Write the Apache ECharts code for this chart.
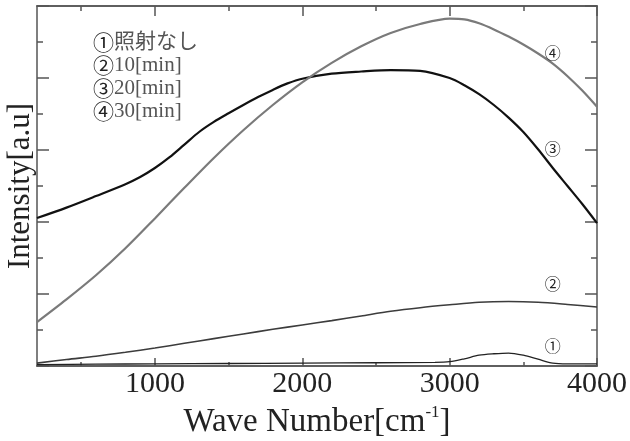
<!DOCTYPE html>
<html><head><meta charset="utf-8">
<script src="https://cdn.jsdelivr.net/npm/echarts@6.0.0/dist/echarts.min.js"></script>
<style>html,body{margin:0;padding:0;background:#fff}#c{width:630px;height:441px}</style>
</head><body><div id="c"></div>
<script>
// Wave numbers (cm^-1) at which each curve was read
const wave3 = [200,400,600,800,900,1000,1100,1200,1300,1400,1500,1600,1700,1800,1900,2000,2200,2400,2600,2800,3000,3100,3200,3300,3400,3500,3600,3700,3800,3900,4000];
const int3  = [4.11,4.40,4.72,5.05,5.25,5.5,5.8,6.15,6.5,6.78,7.02,7.25,7.47,7.67,7.85,7.98,8.12,8.18,8.22,8.2,8.0,7.8,7.55,7.25,6.9,6.5,6.02,5.5,5.0,4.5,3.97];
const wave4 = [200,400,600,800,1000,1200,1400,1600,1800,2000,2200,2400,2600,2800,3000,3100,3200,3300,3400,3500,3600,3700,3800,3900,4000];
const int4  = [1.22,1.85,2.52,3.27,4.1,4.95,5.78,6.55,7.25,7.88,8.42,8.88,9.25,9.5,9.65,9.63,9.52,9.35,9.15,8.93,8.68,8.4,8.05,7.65,7.2];
const wave2 = [200,400,600,800,1000,1200,1400,1600,1800,2000,2200,2400,2600,2800,3000,3200,3400,3600,3800,4000];
const int2  = [0.08,0.18,0.27,0.38,0.5,0.63,0.76,0.89,1.02,1.14,1.26,1.39,1.52,1.62,1.7,1.77,1.79,1.77,1.71,1.64];
const wave1 = [200,600,1000,1500,2000,2500,2900,3000,3100,3200,3300,3400,3500,3600,3700,3800,4000];
const int1  = [0.04,0.05,0.06,0.07,0.08,0.09,0.1,0.12,0.2,0.3,0.34,0.36,0.3,0.19,0.08,0.06,0.06];
// curve tags (circled numbers) positions in data units
const tagWave = 3700;
const tagInt = [0.56, 2.28, 6.03, 8.69];
const tagText = ['①','②','③','④'];
// axis ticks
const xMajor = [1000,2000,3000,4000];
const xMinor = [500,1500,2500,3500];
const legendLines = [['①','照射なし'],['②','10[min]'],['③','20[min]'],['④','30[min]']];

const serif = '"Liberation Serif","Times New Roman","Noto Sans CJK JP",serif';
const frame = {show:true, lineStyle:{color:'#555', width:1.5}};
function xAx(pos, vals, len, labels, extra){
  return Object.assign({type:'value', min:200, max:4000, position:pos,
    axisLine: frame,
    axisTick:{show:true, inside:true, length:len, customValues:vals, lineStyle:{color:'#555', width:1.5}},
    axisLabel: labels ? {show:true, customValues:vals, margin:3, fontFamily:serif, fontSize:30, color:'#222',
      formatter:v=>String(v)} : {show:false},
    splitLine:{show:false}}, extra||{});
}
function yAx(pos, extra){
  return Object.assign({type:'value', min:0, max:10, interval:2, position:pos,
    axisLine: frame,
    axisTick:{show:true, inside:true, length:12, lineStyle:{color:'#555', width:1.5}},
    minorTick:{show:true, splitNumber:2, length:6, lineStyle:{color:'#555', width:1.5}},
    axisLabel:{show:false}, splitLine:{show:false}, minorSplitLine:{show:false}}, extra||{});
}
function zip(a,b){return a.map((v,i)=>[v,b[i]]);}
function tag(i){
  return {symbol:'circle', symbolSize:1, silent:true, itemStyle:{color:'rgba(0,0,0,0)'},
    label:{show:true, position:'inside', formatter:tagText[i], fontSize:16, color:'#222', fontFamily:'"Noto Sans CJK JP",sans-serif'},
    data:[{coord:[tagWave, tagInt[i]]}]};
}
const chart = echarts.init(document.getElementById('c'), null, {renderer:'canvas'});
chart.setOption({
  animation:false,
  backgroundColor:'#fff',
  grid:{left:37, right:33, top:6, bottom:75, outerBoundsMode:'none', containLabel:false},
  title:{
    left:88, top:26,
    text: legendLines.map(l=>'{c|'+l[0]+'}{t|'+l[1]+'}').join('\n'),
    textStyle:{fontSize:20, fontWeight:'normal', lineHeight:23, rich:{
      c:{fontSize:21, color:'#222', fontWeight:'normal', fontFamily:'"Noto Sans CJK JP",sans-serif', lineHeight:23},
      t:{fontSize:21, color:'#555', fontWeight:'normal', fontFamily:serif, lineHeight:23}
    }}
  },
  xAxis:[
    xAx('bottom', xMajor, 8, true, {
      name:'{a|Wave Number[cm}{s|-1}{a|]}', nameLocation:'middle', nameGap:34,
      nameTextStyle:{rich:{
        a:{fontFamily:serif, fontSize:33, color:'#222', lineHeight:36},
        s:{fontFamily:serif, fontSize:17, color:'#222', verticalAlign:'top', lineHeight:36}
      }}
    }),
    xAx('bottom', xMinor, 4, false),
    xAx('top', xMajor, 10, false),
    xAx('top', xMinor, 5, false)
  ],
  yAxis:[
    yAx('left', {name:'Intensity[a.u]', nameLocation:'middle', nameRotate:90, nameGap:1,
      nameTextStyle:{fontFamily:serif, fontSize:31, color:'#222'}}),
    yAx('right')
  ],
  series:[
    {type:'line', name:'1', data:zip(wave1,int1), showSymbol:false, smooth:0.3, lineStyle:{color:'#222', width:1.3}, markPoint:tag(0)},
    {type:'line', name:'2', data:zip(wave2,int2), showSymbol:false, smooth:0.3, lineStyle:{color:'#3c3c3c', width:1.6}, markPoint:tag(1)},
    {type:'line', name:'3', data:zip(wave3,int3), showSymbol:false, smooth:0.3, lineStyle:{color:'#111', width:2.2}, markPoint:tag(2)},
    {type:'line', name:'4', data:zip(wave4,int4), showSymbol:false, smooth:0.3, lineStyle:{color:'#7a7a7a', width:2.2}, markPoint:tag(3)}
  ]
});
</script></body></html>
